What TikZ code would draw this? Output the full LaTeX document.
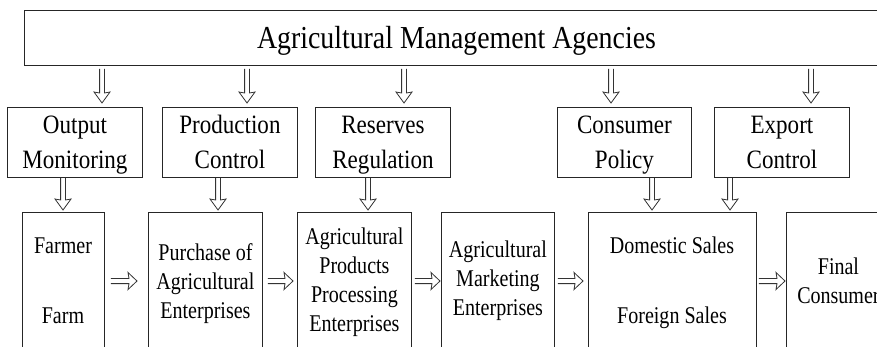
\documentclass[tikz,border=0pt]{standalone}
\usepackage{fontspec}
\setmainfont{Liberation Serif}[FakeStretch=0.87]
\newfontfamily\botfont{Liberation Serif}[FakeStretch=0.835]
\usetikzlibrary{calc}
\newcommand\hst[1]{\vrule height #1pt depth 0pt width 0pt}
\newcommand\dst[1]{\vrule height 0pt depth #1pt width 0pt}
\begin{document}
\begin{tikzpicture}[x=1pt,y=-1pt,
  box/.style={draw=black!85, line width=0.9pt, inner sep=0pt, anchor=north west, align=center},
  bigf/.style={font=\fontsize{32}{38}\selectfont},
  midf/.style={font=\fontsize{26.5}{35}\selectfont},
  smlf/.style={font=\botfont\fontsize{24}{29}\selectfont},
  arr/.style={draw=black!80, line width=0.8pt, line join=miter},
  varr/.style={arr, to path={
    let \p1=(\tikztostart), \p2=(\tikztotarget) in
    (\x1-2.4pt,\y1) -- (\x1-2.4pt,\y2+10pt) -- (\x1-8pt,\y2+11pt) -- (\x1,\y2)
    -- (\x1+8pt,\y2+11pt) -- (\x1+2.4pt,\y2+10pt) -- (\x1+2.4pt,\y1)}},
  harr/.style={arr, to path={
    let \p1=(\tikztostart), \p2=(\tikztotarget) in
    (\x1,\y1+2.6pt) -- (\x2-8pt,\y1+2.6pt) -- (\x2-9pt,\y1+8.5pt) -- (\x2,\y1)
    -- (\x2-9pt,\y1-8.5pt) -- (\x2-8pt,\y1-2.6pt) -- (\x1,\y1-2.6pt)}},
  ]
\useasboundingbox (0,0) rectangle (877,346);
\clip (0,0) rectangle (877,346);
% top
\node[box, bigf, minimum width=864pt, minimum height=55.5pt, text height=24pt, text depth=2.5pt] (top) at (24,9.5) {Agricultural Management Agencies};
% second row
\node[box, midf, minimum width=135pt, minimum height=70pt] (om) at (7,107) {\hst{26}Output\\Monitoring\dst{9}};
\node[box, midf, minimum width=135pt, minimum height=70pt] (pc) at (162,107) {\hst{26}Production\\Control\dst{9}};
\node[box, midf, minimum width=135pt, minimum height=70pt] (rr) at (315,107) {\hst{26}Reserves\\Regulation\dst{9}};
\node[box, midf, minimum width=134pt, minimum height=70pt] (cp) at (557,107) {\hst{26}Consumer\\Policy\dst{9}};
\node[box, midf, minimum width=135pt, minimum height=70pt] (ec) at (714,107) {\hst{26}Export\\Control\dst{9}};
% bottom row
\node[box, minimum width=82pt, minimum height=140pt] (fb) at (22,212) {};
\node[smlf, anchor=base] (farmer) at (63,253) {Farmer};
\node[smlf, anchor=base] (farm) at (63,323) {Farm};
\node[box, smlf, minimum width=114pt, minimum height=140pt] (pb) at (148,212) {\hst{48}Purchase of\\Agricultural\\Enterprises\dst{34}};
\node[box, smlf, minimum width=114pt, minimum height=140pt] (ab) at (297,212) {\hst{32}Agricultural\\Products\\Processing\\Enterprises\dst{21}};
\node[box, smlf, minimum width=113pt, minimum height=140pt] (mb) at (441,212) {\hst{45}Agricultural\\Marketing\\Enterprises\dst{37}};
\node[box, minimum width=168pt, minimum height=140pt] (db) at (588,212) {};
\node[smlf, anchor=base] (dom) at (672,253) {Domestic Sales};
\node[smlf, anchor=base] (for) at (672,323) {Foreign Sales};
\node[box, smlf, minimum width=104pt, minimum height=140pt] (fc) at (786,212) {\hst{62}Final\\Consumer\dst{49}};
% arrow positions
\coordinate (a1) at (102,0);
\coordinate (a2) at (247,0);
\coordinate (a3) at (404,0);
\coordinate (a4) at (611,0);
\coordinate (a5) at (811,0);
\coordinate (b1) at (63,0);
\coordinate (b2) at (218,0);
\coordinate (b3) at (368,0);
\coordinate (b4) at (652,0);
\coordinate (b5) at (730,0);
\coordinate (hy) at (0,281);
% top arrows
\foreach \c/\n in {a1/om,a2/pc,a3/rr,a4/cp,a5/ec}
  \draw[varr] ([yshift=-3pt]top.south -| \c) to ([yshift=4pt]\n.north -| \c);
% second row arrows
\draw[varr] (om.south -| b1) to ([yshift=2pt]fb.north -| b1);
\draw[varr] (pc.south -| b2) to ([yshift=2pt]pb.north -| b2);
\draw[varr] (rr.south -| b3) to ([yshift=2pt]ab.north -| b3);
\draw[varr] (cp.south -| b4) to ([yshift=2pt]db.north -| b4);
\draw[varr] (ec.south -| b5) to ([yshift=2pt]db.north -| b5);
% horizontal arrows
\draw[harr] ([xshift=6pt]fb.east |- hy) to ([xshift=-11pt]pb.west |- hy);
\draw[harr] ([xshift=5pt]pb.east |- hy) to ([xshift=-4pt]ab.west |- hy);
\draw[harr] ([xshift=3pt]ab.east |- hy) to ([xshift=-1pt]mb.west |- hy);
\draw[harr] ([xshift=3pt]mb.east |- hy) to ([xshift=-5pt]db.west |- hy);
\draw[harr] ([xshift=2pt]db.east |- hy) to ([xshift=-1pt]fc.west |- hy);
\end{tikzpicture}
\end{document}
